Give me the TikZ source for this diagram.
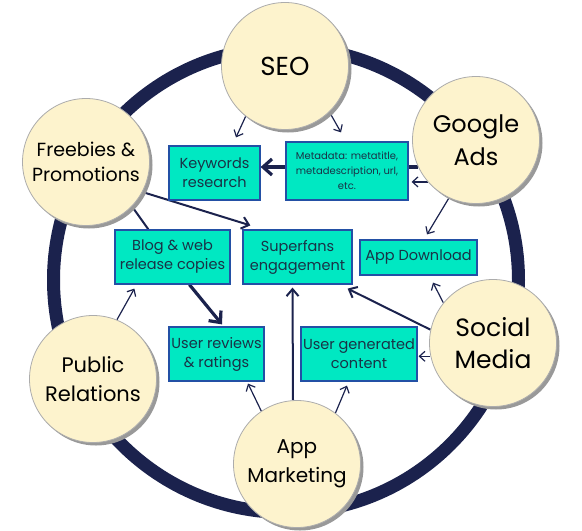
\documentclass[tikz,border=0pt]{standalone}
\usepackage{fontspec}
\setmainfont{Poppins}
\usetikzlibrary{shadows,arrows.meta,calc}
\definecolor{ringc}{RGB}{27,34,77}
\definecolor{cream}{RGB}{253,243,205}
\definecolor{boxfill}{RGB}{0,232,194}
\definecolor{boxline}{RGB}{35,80,165}
\definecolor{boxtext}{RGB}{25,50,70}
\definecolor{arrowc}{RGB}{27,34,77}
\pgfdeclarelayer{ringlayer}
\pgfdeclarelayer{arrowlayer}
\pgfsetlayers{ringlayer,arrowlayer,main}
\begin{document}
\begin{tikzpicture}[x=1pt,y=-1pt,
  bubble/.style={circle,fill=cream,draw=gray!65,line width=0.8pt,minimum size=127pt,inner sep=0pt,align=center,text=black,
    drop shadow={shadow xshift=3pt,shadow yshift=-3pt,fill=gray!80,opacity=1}},
  infobox/.style={rectangle,fill=boxfill,draw=boxline,line width=1.2pt,inner sep=1pt,align=center,text=boxtext,font=\fontsize{14.5}{19}\selectfont},
  thinarrow/.style={draw=arrowc,line width=1.2pt,-{Straight Barb[length=5.5pt,width=10pt,line width=1.2pt]}},
  midarrow/.style={draw=arrowc,line width=2pt,-{Straight Barb[length=7pt,width=12pt,line width=2pt]}},
  thickarrow/.style={draw=arrowc,line width=3.2pt,-{Straight Barb[length=9pt,width=16pt,line width=3.2pt]}},
  plainline/.style={draw=arrowc,line width=2pt}
]
\useasboundingbox (0,0) rectangle (582,531);
\begin{pgfonlayer}{ringlayer}
\draw[ringc,line width=13pt] (286,280) circle[radius=232.5pt];
\end{pgfonlayer}

% circles
\node[bubble,font=\fontsize{26}{32}\selectfont] (seo) at (285,66) {SEO};
\node[bubble,font=\fontsize{24}{33}\selectfont] (ga) at (476,140) {Google\\Ads};
\node[bubble,font=\fontsize{19}{25}\selectfont] (fp) at (86,162) {Freebies \&\\Promotions};
\node[bubble,font=\fontsize{21}{29}\selectfont] (pr) at (93,379) {Public\\Relations};
\node[bubble,font=\fontsize{25}{32}\selectfont] (sm) at (493,343) {Social\\Media};
\node[bubble,font=\fontsize{20}{29}\selectfont] (am) at (297,464) {App\\Marketing};

% boxes
\node[infobox,minimum width=91pt,minimum height=54pt] (kw) at (214.5,173) {Keywords\\research};
\node[infobox,minimum width=122pt,minimum height=58pt,font=\fontsize{10}{15}\selectfont] (meta) at (347,171) {Metadata: metatitle,\\metadescription, url,\\etc.};
\node[infobox,minimum width=115pt,minimum height=54pt] (bl) at (172.5,257) {Blog \& web\\release copies};
\node[infobox,minimum width=109pt,minimum height=54pt] (sf) at (297.5,257) {Superfans\\engagement};
\node[infobox,minimum width=117pt,minimum height=35pt] (ad) at (418.5,257.5) {App Download};
\node[infobox,minimum width=95pt,minimum height=54pt] (ur) at (216.5,354) {User reviews\\\& ratings};
\node[infobox,minimum width=116pt,minimum height=54pt] (ug) at (359,354) {User generated\\content};

\begin{pgfonlayer}{arrowlayer}
% SEO
\draw[thinarrow] (seo.232) -- ($(kw.north)+(21.5,-8)$);
\draw[thinarrow] (seo.314) -- ($(meta.north)+(-6,-9)$);
% Google Ads
\draw[thickarrow] (ga.205) -- (kw.east |- ga.205);
\draw[thinarrow] (ga.221) -- ($(meta.east |- ga.221)+(3,0)$);
\draw[thinarrow] (ga.245) -- ($(ad.north)+(8.5,-5)$);
% Freebies
\draw[midarrow] (fp.332) -- ($(sf.north west)+(8,-4)$);
\draw[plainline] (fp.316) -- ($(bl.north west)+(34,0)$);
% Blog
\draw[thickarrow] ($(bl.south west)+(75,0)$) -- ($(ur.north)+(5.5,-2)$);
% App Marketing
\draw[midarrow] ($(am.north)+(-4,0)$) -- ($(sf.south)+(-5,3)$);
\draw[thinarrow] (am.124) -- ($(ur.south)+(31.5,2)$);
\draw[thinarrow] (am.53) -- ($(ug.south)+(-12,4)$);
% Social Media
\draw[midarrow] (sm.168) -- ($(sf.south east)+(-5,4)$);
\draw[thinarrow] (sm.192) -- ($(ug.east |- sm.192)+(1,0)$);
\draw[thinarrow] (sm.141) -- ($(ad.south)+(14.5,7)$);
% Public Relations
\draw[thinarrow] (pr.68) -- ($(bl.south west)+(20,4)$);
\end{pgfonlayer}
\end{tikzpicture}
\end{document}
